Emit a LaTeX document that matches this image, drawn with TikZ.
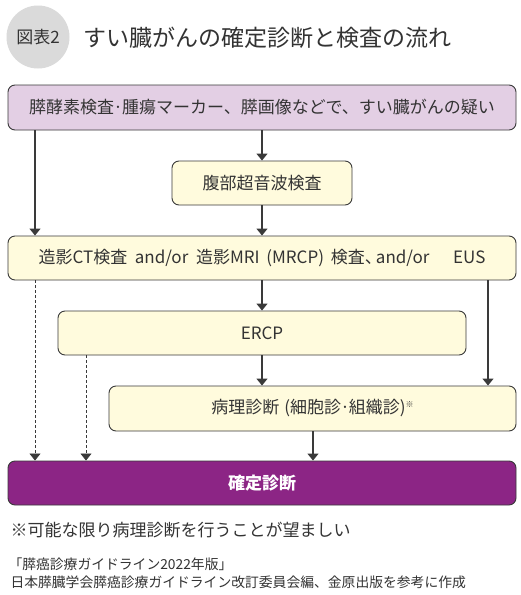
\documentclass[tikz,border=0pt]{standalone}
\usepackage{fontspec}
\setmainfont{Noto Sans CJK JP}
\usetikzlibrary{arrows.meta,calc}
\definecolor{txt}{HTML}{333333}
\definecolor{edge}{HTML}{3A3A3A}
\definecolor{lav}{HTML}{E3CFE4}
\definecolor{cream}{HTML}{FFFBDD}
\definecolor{purp}{HTML}{8C2585}
\definecolor{badge}{HTML}{DADADA}
\tikzset{
  box/.style={draw=edge, line width=0.9pt, rounded corners=7pt, text=txt, font=\fontsize{17}{19}\selectfont, inner sep=0pt},
  arr/.style={draw=edge, line width=1.1pt, -{Triangle[width=11pt,length=7pt]}},
  darr/.style={arr, line width=0.8pt, dash pattern=on 3pt off 2pt},
}
\begin{document}
\begin{tikzpicture}[x=1pt,y=-1pt]
\useasboundingbox[fill=white] (0,0) rectangle (520,595);
% title
\node[circle, fill=badge, minimum size=63pt, inner sep=0pt] (badge) at (38,37) {};
\node[text=txt, font=\fontsize{17}{19}\selectfont] (blabel) at (38,37) {図表2};
\node[anchor=west, text=txt, font=\fontsize{23}{25}\selectfont] (title) at (80,38) {すい臓がんの確定診断と検査の流れ};
% boxes
\node[box, fill=lav, minimum width=508pt, minimum height=45pt] (b1) at (262,107.5) {膵酵素検査{\hspace{-0.05em}·\hspace{-0.05em}}腫瘍マーカー、膵画像などで、すい臓がんの疑い};
\node[box, fill=cream, minimum width=180pt, minimum height=44pt] (b2) at (262,183) {腹部超音波検査};
\node[box, fill=cream, minimum width=508pt, minimum height=44pt] (b3) at (262,258) {造影CT検査\hspace{0.45em}and/or\hspace{0.45em}造影MRI\hspace{0.4em}(MRCP)\hspace{0.4em}検査、\hspace{-0.35em}and/or\hspace{1.4em}EUS};
\node[box, fill=cream, minimum width=408pt, minimum height=44pt] (b4) at (262,333) {ERCP};
\node[box, fill=cream, minimum width=407pt, minimum height=45pt] (b5) at (312.5,408.5) {病理診断\hspace{0.3em}(細胞診{\hspace{-0.05em}·\hspace{-0.05em}}組織診)\raisebox{0.7ex}{\fontsize{8}{9}\selectfont ※}};
\node[box, fill=purp, text=white, minimum width=508pt, minimum height=44pt, font=\fontsize{17}{19}\selectfont\bfseries] (b6) at (262,483) {確定診断};
% x positions
\coordinate (xl) at (35,0);
\coordinate (xe) at (86,0);
\coordinate (xp) at (313,0);
\coordinate (xr) at (488,0);
% arrows
\draw[arr] (b1.south) -- (b2.north);
\draw[arr] (b1.south -| xl) -- (b3.north -| xl);
\draw[arr] (b2.south) -- (b3.north);
\draw[arr] (b3.south) -- (b4.north);
\draw[arr] (b3.south -| xr) -- (b5.north -| xr);
\draw[darr] (b3.south -| xl) -- (b6.north -| xl);
\draw[darr] (b4.south -| xe) -- (b6.north -| xe);
\draw[arr] (b4.south) -- (b4.south |- b5.north);
\draw[arr] (b5.south -| xp) -- (b6.north -| xp);
% notes
\node[anchor=west, text=txt, font=\fontsize{17}{19}\selectfont] (note) at (7,530) {※可能な限り病理診断を行うことが望ましい};
\node[anchor=west, text=txt, font=\fontsize{13.8}{15}\selectfont] (src1) at (5,564) {「膵癌診療ガイドライン2022年版」};
\node[anchor=west, text=txt, font=\fontsize{13.8}{15}\selectfont] (src2) at (7,582) {日本膵臓学会膵癌診療ガイドライン改訂委員会編、金原出版を参考に作成};
\end{tikzpicture}
\end{document}
